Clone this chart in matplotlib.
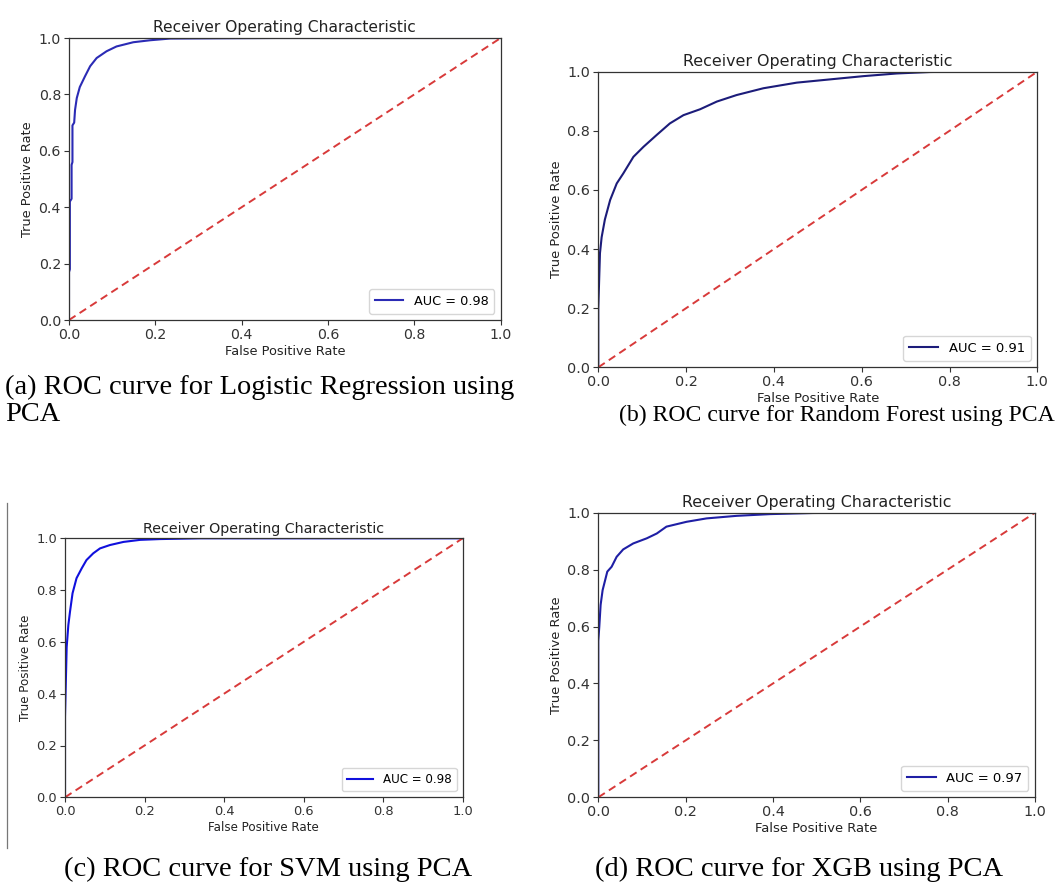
import matplotlib
matplotlib.use("Agg")
from matplotlib import pyplot as plt
from matplotlib.patches import Rectangle
from matplotlib.lines import Line2D

# ROC points
fprLogReg = [0.0, 0.0, 0.002, 0.002, 0.006, 0.006, 0.008, 0.008, 0.012, 0.014, 0.018, 0.025,
             0.037, 0.049, 0.064, 0.087, 0.11, 0.149, 0.188, 0.234, 0.48, 1.0]
tprLogReg = [0.0, 0.17, 0.18, 0.42, 0.43, 0.55, 0.56, 0.69, 0.70, 0.745, 0.787, 0.826,
             0.864, 0.90, 0.929, 0.953, 0.97, 0.985, 0.992, 0.998, 1.0, 1.0]

fprForest = [0.0, 0.0, 0.0038, 0.0076, 0.015, 0.027, 0.042, 0.057, 0.080, 0.103, 0.133, 0.163,
             0.194, 0.232, 0.270, 0.315, 0.376, 0.452, 0.528, 0.604, 0.68, 0.756, 0.831, 1.0]
tprForest = [0.0, 0.2, 0.386, 0.44, 0.50, 0.566, 0.622, 0.656, 0.712, 0.746, 0.786, 0.825,
             0.853, 0.873, 0.899, 0.921, 0.944, 0.963, 0.974, 0.985, 0.994, 0.999, 1.0, 1.0]

fprSvm = [0.0, 0.0, 0.0042, 0.0084, 0.0126, 0.019, 0.029, 0.042, 0.054, 0.071, 0.088, 0.113,
          0.147, 0.189, 0.239, 0.34, 1.0]
tprSvm = [0.0, 0.31, 0.58, 0.665, 0.717, 0.788, 0.846, 0.884, 0.916, 0.942, 0.961, 0.974,
          0.986, 0.994, 0.997, 1.0, 1.0]

fprXgb = [0.0, 0.0, 0.0023, 0.0053, 0.0099, 0.0206, 0.0305, 0.042, 0.057, 0.080, 0.111, 0.134,
          0.156, 0.202, 0.248, 0.317, 0.393, 0.492, 0.607, 1.0]
tprXgb = [0.0, 0.55, 0.60, 0.676, 0.728, 0.793, 0.81, 0.845, 0.871, 0.892, 0.91, 0.927,
          0.951, 0.968, 0.98, 0.989, 0.995, 0.999, 1.0, 1.0]

aucLabels = ["AUC = 0.98", "AUC = 0.91", "AUC = 0.98", "AUC = 0.97"]
captions = ["(a) ROC curve for Logistic Regression using\nPCA",
            "(b) ROC curve for Random Forest using PCA",
            "(c) ROC curve for SVM using PCA",
            "(d) ROC curve for XGB using PCA"]
ticks = [0.0, 0.2, 0.4, 0.6, 0.8, 1.0]

W, H = 1055, 896
fig = plt.figure(figsize=(W / 100, H / 100), dpi=100)


# pixel box (left, top, right, bottom) -> figure fractions
def addAxesPx(left, top, right, bottom):
    return fig.add_axes([left / W, 1 - bottom / H, (right - left) / W, (bottom - top) / H])


def plotRocPanel(ax, fpr, tpr, aucLabel, color, scale):
    ax.plot(fpr, tpr, color=color, lw=1.5, label=aucLabel)
    ax.plot([0, 1], [0, 1], color="#d83a3a", ls="--", lw=1.4, dashes=(4, 2.5))
    ax.set_xlim(0, 1)
    ax.set_ylim(0, 1)
    ax.set_xticks(ticks)
    ax.set_yticks(ticks)
    ax.set_title("Receiver Operating Characteristic", fontsize=11.2 * scale, color="#222222", pad=4)
    ax.set_xlabel("False Positive Rate", fontsize=9.3 * scale, color="#222222", labelpad=2)
    ax.set_ylabel("True Positive Rate", fontsize=9.3 * scale, color="#222222", labelpad=3)
    ax.tick_params(labelsize=10.2 * scale, length=3.3, width=0.8, colors="#333333", pad=2.5)
    for sp in ax.spines.values():
        sp.set_linewidth(0.9)
        sp.set_color("#333333")
    ax.legend(loc="lower right", fontsize=9.3 * scale, handlelength=2.2,
              framealpha=0.8, edgecolor="#cccccc", borderpad=0.45)


axA = addAxesPx(69, 38, 500.7, 320)
plotRocPanel(axA, fprLogReg, tprLogReg, aucLabels[0], "#2b2bb5", 1.0)

axB = addAxesPx(598.3, 71.7, 1037.3, 367.3)
plotRocPanel(axB, fprForest, tprForest, aucLabels[1], "#1c1c7a", 1.02)

axC = addAxesPx(65, 538.3, 462.7, 797.3)
plotRocPanel(axC, fprSvm, tprSvm, aucLabels[2], "#1010dd", 0.92)

axD = addAxesPx(598.3, 512.7, 1035, 797.3)
plotRocPanel(axD, fprXgb, tprXgb, aucLabels[3], "#1f1fa5", 1.02)

# panel (b) screenshot was cut through its x label
fig.patches.append(Rectangle((590 / W, 1 - 412 / H), 465 / W, 10 / H, transform=fig.transFigure,
                             facecolor="white", edgecolor="none", zorder=1))
# left edge of screenshot (c)
fig.add_artist(Line2D([7 / W, 7 / W], [1 - 503 / H, 1 - 848 / H], transform=fig.transFigure,
                      color="#777777", lw=0.9))

capFont = dict(family="Liberation Serif", color="black", zorder=3)
fig.text(5 / W, 1 - 401 / H, captions[0], ha="left", va="center", linespacing=1.08,
         fontsize=20.4, **capFont)
fig.text(619 / W, 1 - 415 / H, captions[1], ha="left", va="center", fontsize=17.1, **capFont)
fig.text(268 / W, 1 - 869 / H, captions[2], ha="center", va="center", fontsize=20.5, **capFont)
fig.text(799 / W, 1 - 869 / H, captions[3], ha="center", va="center", fontsize=20.5, **capFont)

fig.savefig("out.png", dpi=100, facecolor="white")
